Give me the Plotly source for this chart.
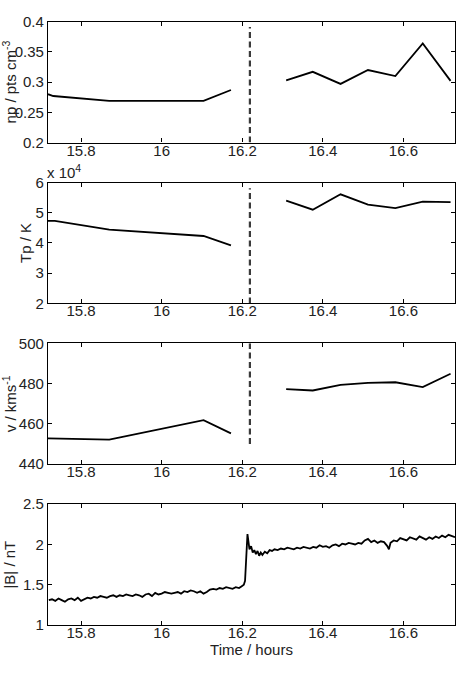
import plotly.graph_objects as go

# ---- data ----
np_left_t = [15.718, 15.731, 15.870, 16.104, 16.172]
np_left_v = [0.280, 0.277, 0.269, 0.269, 0.287]
np_right_t = [16.309, 16.375, 16.444, 16.512, 16.580, 16.648, 16.717]
np_right_v = [0.303, 0.317, 0.297, 0.320, 0.310, 0.364, 0.302]

tp_left_t = [15.718, 15.735, 15.870, 16.104, 16.172]
tp_left_v = [47300, 47300, 44400, 42300, 39200]
tp_right_t = [16.309, 16.375, 16.444, 16.512, 16.580, 16.648, 16.717]
tp_right_v = [54000, 51000, 56100, 52700, 51500, 53700, 53500]

v_left_t = [15.718, 15.870, 16.104, 16.172]
v_left_v = [452.8, 452.2, 461.9, 455.3]
v_right_t = [16.309, 16.375, 16.444, 16.512, 16.580, 16.648, 16.717]
v_right_v = [477.3, 476.6, 479.4, 480.4, 480.7, 478.3, 484.9]

shock_t = [16.219, 16.219]
shock_np = [0.2, 0.391]
shock_tp = [20000, 58100]
shock_v = [450, 500]

b_t = [15.720, 15.728, 15.736, 15.744, 15.752, 15.760, 15.768, 15.776, 15.784, 15.792,
       15.800, 15.808, 15.816, 15.824, 15.832, 15.840, 15.848, 15.856, 15.864, 15.872,
       15.880, 15.888, 15.896, 15.904, 15.912, 15.920, 15.928, 15.936, 15.944, 15.952,
       15.960, 15.968, 15.976, 15.984, 15.992, 16.000, 16.008, 16.016, 16.024, 16.032,
       16.040, 16.048, 16.056, 16.064, 16.072, 16.080, 16.088, 16.096, 16.104, 16.112,
       16.120, 16.128, 16.136, 16.144, 16.152, 16.160, 16.168, 16.176, 16.184, 16.192,
       16.198, 16.204, 16.207, 16.209, 16.211, 16.213, 16.215, 16.218, 16.222, 16.226,
       16.230, 16.234, 16.238, 16.242, 16.246, 16.250, 16.256, 16.262, 16.268, 16.274,
       16.280, 16.288, 16.296, 16.304, 16.312, 16.320, 16.328, 16.336, 16.344, 16.352,
       16.360, 16.368, 16.376, 16.384, 16.392, 16.400, 16.408, 16.416, 16.424, 16.432,
       16.440, 16.448, 16.456, 16.464, 16.472, 16.480, 16.488, 16.496, 16.504, 16.512,
       16.520, 16.528, 16.536, 16.544, 16.552, 16.560, 16.564, 16.568, 16.576, 16.584,
       16.592, 16.600, 16.608, 16.616, 16.624, 16.632, 16.640, 16.648, 16.656, 16.664,
       16.672, 16.680, 16.688, 16.696, 16.704, 16.712, 16.720, 16.728]
b_v = [1.31, 1.32, 1.30, 1.33, 1.31, 1.29, 1.32, 1.33, 1.31, 1.34,
       1.30, 1.32, 1.34, 1.33, 1.35, 1.34, 1.36, 1.35, 1.34, 1.36,
       1.37, 1.35, 1.37, 1.36, 1.38, 1.37, 1.36, 1.38, 1.37, 1.35,
       1.38, 1.39, 1.36, 1.40, 1.38, 1.39, 1.41, 1.40, 1.39, 1.40,
       1.41, 1.39, 1.42, 1.41, 1.43, 1.42, 1.40, 1.42, 1.39, 1.41,
       1.44, 1.45, 1.44, 1.46, 1.45, 1.47, 1.46, 1.45, 1.47, 1.46,
       1.48, 1.50, 1.55, 1.75, 2.00, 2.13, 2.05, 1.94, 1.98, 1.90,
       1.93, 1.88, 1.92, 1.86, 1.90, 1.87, 1.91, 1.89, 1.93, 1.92,
       1.94, 1.93, 1.95, 1.94, 1.96, 1.95, 1.94, 1.96, 1.95, 1.97,
       1.96, 1.95, 1.97, 1.96, 1.99, 1.97, 1.98, 1.96, 1.99, 2.00,
       1.98, 2.01, 2.00, 2.02, 2.01, 2.00, 2.02, 2.01, 2.05, 2.07,
       2.03, 2.05, 2.02, 2.04, 2.03, 1.98, 1.94, 2.02, 2.05, 2.04,
       2.08, 2.06, 2.05, 2.09, 2.07, 2.06, 2.10, 2.08, 2.06, 2.09,
       2.07, 2.10, 2.08, 2.11, 2.09, 2.12, 2.10, 2.09]

x_ticks = [15.8, 16.0, 16.2, 16.4, 16.6]
x_ticktext = ["15.8", "16", "16.2", "16.4", "16.6"]
x_range = [15.718, 16.728]

# ---- figure ----
fig = go.Figure()
line = dict(color="black", width=1.8)
dash = dict(color="#3a3a3a", width=2.2, dash="6px,3.5px")

def add(t, v, ax, style):
    fig.add_trace(go.Scatter(x=t, y=v, mode="lines", line=style, xaxis="x" + ax,
                             yaxis="y" + ax, showlegend=False, hoverinfo="skip"))

add(np_left_t, np_left_v, "", line)
add(np_right_t, np_right_v, "", line)
add(shock_t, shock_np, "", dash)
add(tp_left_t, tp_left_v, "2", line)
add(tp_right_t, tp_right_v, "2", line)
add(shock_t, shock_tp, "2", dash)
add(v_left_t, v_left_v, "3", line)
add(v_right_t, v_right_v, "3", line)
add(shock_t, shock_v, "3", dash)
fig.add_trace(go.Scatter(x=b_t, y=b_v, mode="lines", line=dict(color="black", width=1.8),
                         xaxis="x4", yaxis="y4", showlegend=False, hoverinfo="skip"))

W, H = 461, 675
xd = [48 / W, 455 / W]
def yd(top, bot):
    return [1 - bot / H, 1 - top / H]

font = dict(family="Liberation Sans, Arial, sans-serif", size=15, color="#222")
common_x = dict(range=x_range, tickvals=x_ticks, ticktext=x_ticktext, ticks="inside",
                ticklen=4, tickcolor="black", showline=True, linecolor="black",
                linewidth=1.2, mirror="ticks", showgrid=False, zeroline=False,
                domain=xd, tickfont=font, ticklabelstandoff=-6)
common_y = dict(ticks="inside", ticklen=4, tickcolor="black", showline=True,
                linecolor="black", linewidth=1.2, mirror="ticks", showgrid=False,
                zeroline=False, tickfont=font)

layout = dict(
    width=W, height=H, margin=dict(l=0, r=0, t=0, b=0),
    paper_bgcolor="white", plot_bgcolor="white", font=font,
    xaxis=dict(**common_x, anchor="y"),
    yaxis=dict(**common_y, domain=yd(13, 137), range=[0.2, 0.4],
               tickvals=[0.2, 0.25, 0.3, 0.35, 0.4],
               ticktext=["0.2", "0.25", "0.3", "0.35", "0.4"],
               title=dict(text="np / pts cm<sup>-3</sup>", font=font, standoff=2), anchor="x"),
    xaxis2=dict(**common_x, anchor="y2"),
    yaxis2=dict(**common_y, domain=yd(178, 302), range=[20000, 60000],
                tickvals=[20000, 30000, 40000, 50000, 60000],
                ticktext=["2", "3", "4", "5", "6"],
                title=dict(text="Tp / K", font=font, standoff=0), anchor="x2"),
    xaxis3=dict(**common_x, anchor="y3"),
    yaxis3=dict(**common_y, domain=yd(343, 467), range=[440, 500],
                tickvals=[440, 460, 480, 500],
                title=dict(text="v / kms<sup>-1</sup>", font=font, standoff=0), anchor="x3"),
    xaxis4=dict(**common_x, anchor="y4",
                title=dict(text="Time / hours", font=font, standoff=4)),
    yaxis4=dict(**common_y, domain=yd(508, 632), range=[1.0, 2.5],
                tickvals=[1.0, 1.5, 2.0, 2.5], ticktext=["1", "1.5", "2", "2.5"],
                title=dict(text="|B| / nT", font=font, standoff=3), anchor="x4"),
    annotations=[dict(text="x 10<sup>4</sup>", xref="paper", yref="paper",
                      x=45 / W, y=1 - 179 / H, xanchor="left", yanchor="bottom",
                      showarrow=False, font=font)],
)
fig.update_layout(**layout)
fig.write_html("out.html")
